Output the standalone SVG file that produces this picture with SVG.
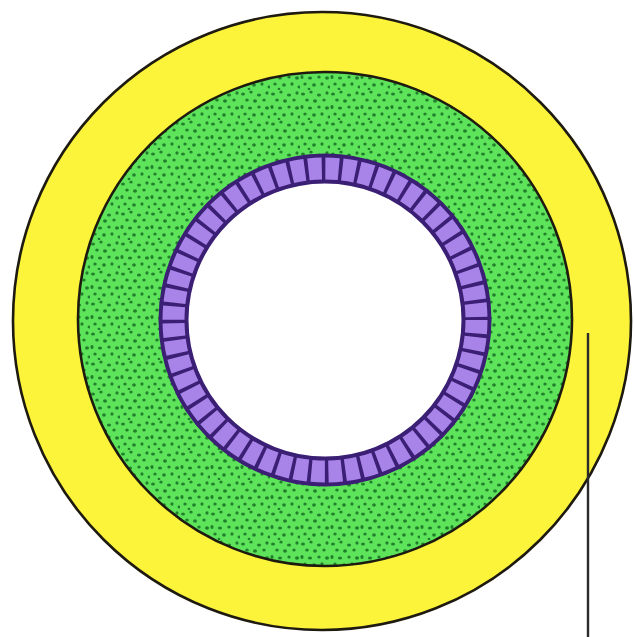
<svg xmlns="http://www.w3.org/2000/svg" width="635" height="637" viewBox="0 0 635 637">
  <defs>
    <style>
      .edge { stroke: #1e1a10; stroke-width: 2.6; }
      .lead { stroke: #2b2b2b; stroke-width: 2.4; fill: none; }
    </style>
    <!-- irregular stipple for the middle layer -->
    <pattern id="stipple" patternUnits="userSpaceOnUse" width="30" height="30">
      <rect width="30" height="30" fill="#5ee45a"/>
      <g fill="#1a7526" opacity="0.9">
        <ellipse cx="3" cy="4" rx="2.0" ry="1.6"/>
        <ellipse cx="11" cy="2" rx="1.7" ry="1.5"/>
        <ellipse cx="19" cy="5" rx="2.1" ry="1.6"/>
        <ellipse cx="27" cy="3" rx="1.6" ry="1.8"/>
        <ellipse cx="7" cy="10" rx="1.8" ry="1.5"/>
        <ellipse cx="15" cy="11" rx="2.0" ry="1.7"/>
        <ellipse cx="24" cy="10" rx="1.7" ry="1.6"/>
        <ellipse cx="2" cy="17" rx="1.6" ry="1.9"/>
        <ellipse cx="10" cy="18" rx="2.1" ry="1.6"/>
        <ellipse cx="19" cy="17" rx="1.7" ry="1.5"/>
        <ellipse cx="27" cy="18" rx="2.0" ry="1.7"/>
        <ellipse cx="5" cy="24" rx="1.7" ry="1.6"/>
        <ellipse cx="14" cy="25" rx="1.9" ry="1.7"/>
        <ellipse cx="22" cy="24" rx="1.6" ry="1.8"/>
        <ellipse cx="29" cy="27" rx="1.5" ry="1.4"/>
        <ellipse cx="9" cy="29" rx="1.4" ry="1.2"/>
      </g>
    </pattern>
  </defs>

  <rect width="635" height="637" fill="#ffffff"/>

  <!-- outer yellow coat -->
  <g id="outer-layer">
    <circle cx="322" cy="321" r="309" fill="#fbf43a" class="edge"/>
  </g>

  <!-- stippled green middle layer -->
  <g id="middle-layer">
    <circle cx="325" cy="319" r="247" fill="url(#stipple)" class="edge"/>
  </g>

  <!-- purple ring of cells around the lumen -->
  <g id="cell-ring">
    <circle cx="325" cy="320" r="151.5" fill="#ffffff" stroke="#3a1f74" stroke-width="30"/>
    <circle cx="325" cy="320" r="151.5" fill="none" stroke="#a883e8" stroke-width="22"
            stroke-dasharray="13.4 3.6"/>
  </g>

  <!-- leader line -->
  <g id="connectors">
    <line x1="588" y1="333" x2="588" y2="637" class="lead"/>
  </g>
</svg>
